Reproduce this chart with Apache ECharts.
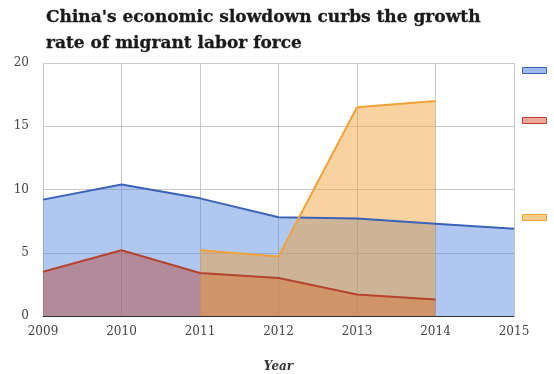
<!DOCTYPE html>
<html><head><meta charset="utf-8">
<script src="https://cdn.jsdelivr.net/npm/echarts@6/dist/echarts.min.js"></script>
<style>html,body{margin:0;padding:0;background:#fff}#c{width:554px;height:374px}</style>
</head><body><div id="c"></div>
<script>
const years = ['2009','2010','2011','2012','2013','2014','2015'];
const seriesNames = ['Migrant labor force growth', 'GDP growth', 'Wage growth'];
const blueValues = [9.2, 10.4, 9.3, 7.8, 7.7, 7.3, 6.9];
const redValues = [3.5, 5.2, 3.4, 3.0, 1.7, 1.3, null];
const orangeValues = [null, null, 5.2, 4.7, 16.5, 17.0, null];
const yTicks = [0, 5, 10, 15, 20];

const chart = echarts.init(document.getElementById('c'));
const serif = 'Georgia, "DejaVu Serif", serif';
function mk(name, data, line, fill) {
  return {
    name: name, type: 'line', data: data, symbol: 'none', connectNulls: false,
    lineStyle: {color: line, width: 2},
    itemStyle: {color: line},
    areaStyle: {color: fill, opacity: 1, origin: 'start'}
  };
}
chart.setOption({
  animation: false,
  title: {
    text: "China's economic slowdown curbs the growth\nrate of migrant labor force",
    left: 41, top: 0,
    textStyle: {fontFamily: serif, fontWeight: 'bold', fontSize: 17, lineHeight: 26, color: '#1a1a1a',
                textBorderColor: '#1a1a1a', textBorderWidth: 0.3}
  },
  grid: {left: 43, right: 40, top: 63, bottom: 58, outerBoundsMode: 'none', containLabel: false},
  legend: [0,1,2].map((i) => ({
    data: [seriesNames[i]], right: 2, top: [62, 112, 209][i], orient: 'vertical',
    icon: 'rect', itemWidth: 24, itemHeight: 6,
    formatter: () => '',
    selectedMode: false,
    itemStyle: {color: [ 'rgba(80,130,220,0.55)', 'rgba(230,110,90,0.6)', 'rgba(245,170,60,0.6)'][i],
                borderColor: ['#3a63b8', '#b5432f', '#f0a23a'][i], borderWidth: 1}
  })),
  xAxis: {
    type: 'category', data: years, boundaryGap: false,
    name: 'Year', nameLocation: 'middle', nameGap: 45,
    nameTextStyle: {fontFamily: serif, fontStyle: 'italic', fontWeight: 'bold', fontSize: 12, color: '#333'},
    axisLine: {lineStyle: {color: '#333', width: 1}},
    axisTick: {show: false},
    axisLabel: {fontFamily: serif, fontSize: 12, color: '#444', margin: 10},
    splitLine: {show: true, lineStyle: {color: '#c8c8c8'}}
  },
  yAxis: {
    type: 'value', min: yTicks[0], max: yTicks[yTicks.length-1], interval: 5,
    axisLine: {show: false}, axisTick: {show: false},
    axisLabel: {fontFamily: serif, fontSize: 12, color: '#444', margin: 14},
    splitLine: {show: true, lineStyle: {color: '#c8c8c8'}}
  },
  series: [
    mk(seriesNames[0], blueValues, '#3a63b8', 'rgba(80,130,220,0.45)'),
    mk(seriesNames[1], redValues, '#b5432f', 'rgba(185,65,50,0.45)'),
    mk(seriesNames[2], orangeValues, '#f0a23a', 'rgba(240,160,50,0.47)')
  ]
});
</script></body></html>
